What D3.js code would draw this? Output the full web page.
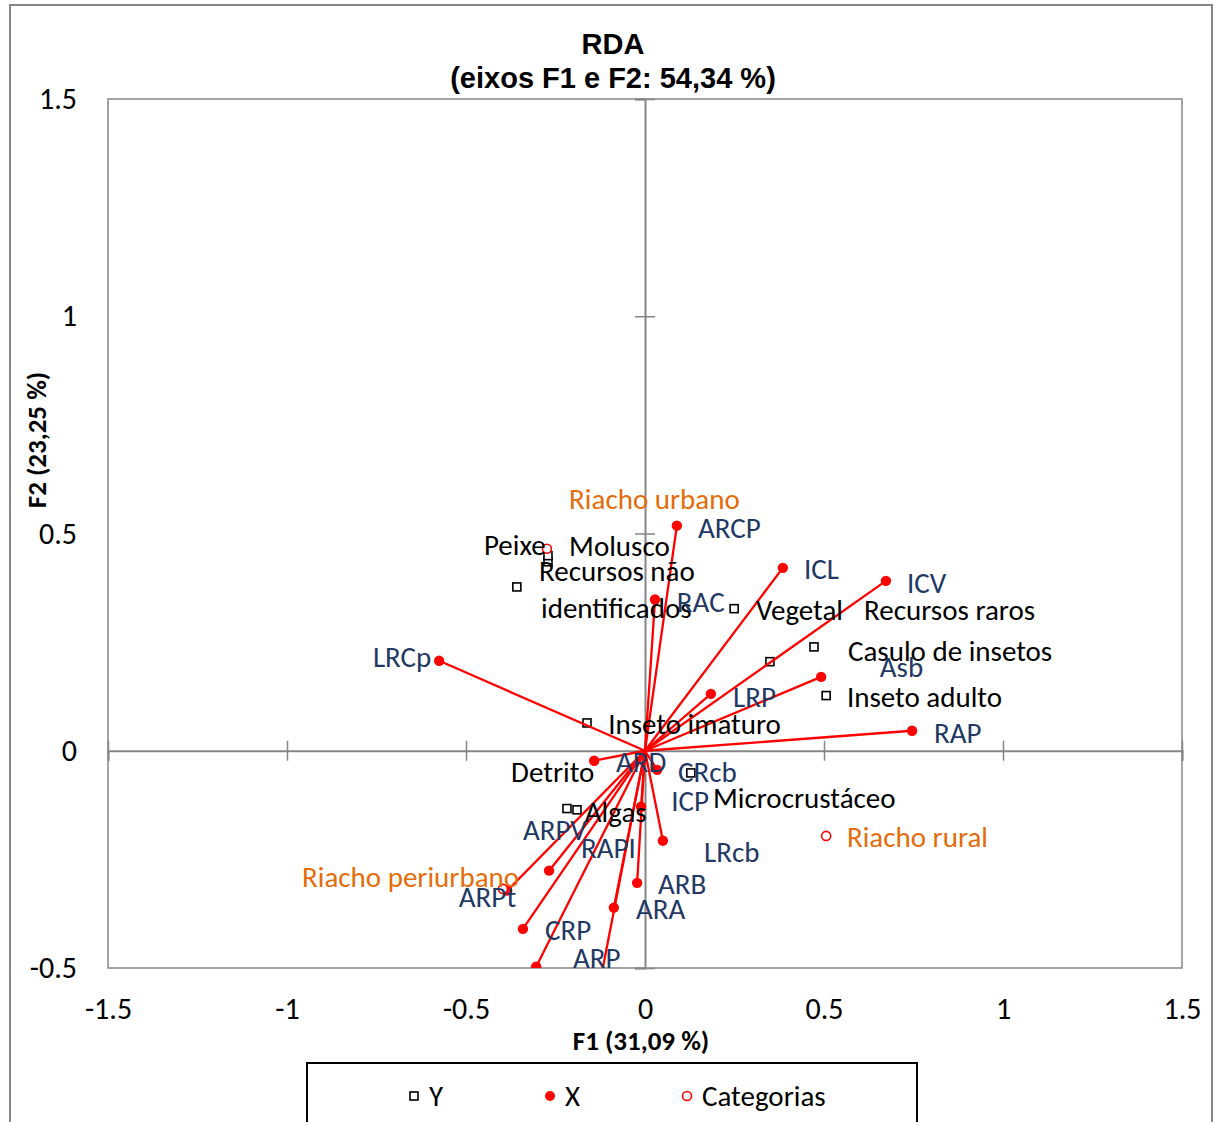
<!DOCTYPE html>
<html><head><meta charset="utf-8">
<script src="https://cdn.jsdelivr.net/npm/d3@7"></script>
<style>body{margin:0;background:#fff}svg{display:block}</style>
</head><body>
<svg id="c" width="1216" height="1122"></svg>
<script>
// ---- data ----
const xNames = ["ARCP","ICL","ICV","RAC","LRCp","LRP","Asb","RAP","ARD","CRcb","ICP","LRcb","ARB","ARA","CRP","ARP","RAPI","ARPV","ARPt"];
const xF1 = [0.089,0.385,0.673,0.028,-0.575,0.184,0.492,0.746,-0.142,0.034,-0.011,0.050,-0.022,-0.087,-0.341,-0.132,-0.304,-0.268,-0.385];
const xF2 = [0.518,0.421,0.391,0.348,0.207,0.131,0.170,0.046,-0.023,-0.044,-0.129,-0.207,-0.304,-0.361,-0.410,-0.560,-0.497,-0.276,-0.322];
const xLabF1 = [0.148,0.444,0.732,0.089,-0.760,0.246,0.656,0.807,-0.081,0.092,0.073,0.165,0.036,-0.025,-0.279,-0.201,-0.179,-0.341,-0.520];
const xLabF2 = [0.513,0.419,0.387,0.343,0.216,0.124,0.193,0.041,-0.025,-0.048,-0.115,-0.232,-0.306,-0.364,-0.412,-0.476,-0.223,-0.182,-0.336];

const yNames = ["Peixe","Molusco","Recursos não|identificados","Vegetal","Recursos raros","Casulo de insetos","Inseto adulto","Inseto imaturo","Detrito","Algas","Microcrustáceo"];
const yF1 = [-0.271,-0.271,-0.358,0.249,0.349,0.472,0.506,-0.162,-0.218,-0.190,0.128];
const yF2 = [0.435,0.449,0.377,0.327,0.205,0.239,0.127,0.064,-0.133,-0.136,-0.051];
const yLabF1 = [-0.450,-0.212,-0.296,0.310,0.612,0.567,0.564,-0.103,-0.374,-0.168,0.190];
const yLabF2 = [0.474,0.472,0.414,0.325,0.325,0.230,0.124,0.062,-0.048,-0.140,-0.108];

const cNames = ["Riacho urbano","Riacho rural","Riacho periurbano"];
const cF1 = [-0.274,0.506,-0.397];
const cF2 = [0.465,-0.196,-0.318];
const cLabF1 = [-0.212,0.564,-0.958];
const cLabF2 = [0.580,-0.198,-0.290];

const xTicks = [-1.5,-1,-0.5,0,0.5,1,1.5];
const yTicks = [-0.5,0,0.5,1,1.5];
const legendItems = ["Y","X","Categorias"];

// ---- drawing ----
const svg = d3.select("#c");
const L=108, R=1182, T=99, B=968;
const x = d3.scaleLinear().domain([-1.5,1.5]).range([L,R]);
const y = d3.scaleLinear().domain([-0.5,1.5]).range([B,T]);
const gray="#868686", blue="#1F3864", orange="#E46C0A", red="#FF0000";
const lblFont = "Carlito, Calibri, Lato, sans-serif";
const fs = 29;

// outer border
svg.append("rect").attr("x",10).attr("y",5).attr("width",1202).attr("height",1130)
  .attr("fill","none").attr("stroke",gray).attr("stroke-width",2);

// title
svg.append("text").attr("x",613).attr("y",54).attr("text-anchor","middle")
  .attr("font-family","Liberation Sans, Arial, sans-serif").attr("font-weight","bold").attr("font-size",29).text("RDA");
svg.append("text").attr("x",613).attr("y",88).attr("text-anchor","middle")
  .attr("font-family","Liberation Sans, Arial, sans-serif").attr("font-weight","bold").attr("font-size",29).text("(eixos F1 e F2: 54,34 %)");

// plot border
svg.append("rect").attr("x",L).attr("y",T).attr("width",R-L).attr("height",B-T)
  .attr("fill","none").attr("stroke",gray).attr("stroke-width",1.5);

// tick labels
const fmt = d => String(d);
const ax = svg.append("g").attr("transform",`translate(0,${B})`)
  .call(d3.axisBottom(x).tickValues(xTicks).tickFormat(fmt).tickSize(0).tickPadding(30));
const ay = svg.append("g").attr("transform",`translate(${L},0)`)
  .call(d3.axisLeft(y).tickValues(yTicks).tickFormat(fmt).tickSize(0).tickPadding(31));
[ax,ay].forEach(g=>{g.select(".domain").remove();
  g.selectAll("text").attr("font-family",lblFont).attr("font-size",30).attr("fill","#000");});

// zero axes with crossing ticks
const zx = svg.append("g").attr("transform",`translate(0,${y(0)})`)
  .call(d3.axisBottom(x).tickValues(xTicks).tickSize(10).tickFormat(""));
zx.selectAll(".tick line").attr("y1",-10);
const zy = svg.append("g").attr("transform",`translate(${x(0)},0)`)
  .call(d3.axisLeft(y).tickValues(yTicks).tickSize(10).tickFormat(""));
zy.selectAll(".tick line").attr("x1",10);
[zx,zy].forEach(g=>{g.select(".domain").attr("stroke",gray).attr("stroke-width",2);
  g.selectAll(".tick line").attr("stroke",gray).attr("stroke-width",1.5);});

// axis titles
svg.append("text").attr("x",641).attr("y",1050).attr("text-anchor","middle")
  .attr("font-family",lblFont).attr("font-weight","bold").attr("font-size",27).text("F1 (31,09 %)");
svg.append("text").attr("transform","translate(46,440) rotate(-90)").attr("text-anchor","middle")
  .attr("font-family",lblFont).attr("font-weight","bold").attr("font-size",27).text("F2 (23,25 %)");

// clip
svg.append("clipPath").attr("id","clip").append("rect").attr("x",L).attr("y",T).attr("width",R-L).attr("height",B-T);
const plot = svg.append("g").attr("clip-path","url(#clip)");

const xs = xNames.map((n,i)=>({n,a:xF1[i],b:xF2[i],la:xLabF1[i],lb:xLabF2[i]}));
const ys = yNames.map((n,i)=>({n,a:yF1[i],b:yF2[i],la:yLabF1[i],lb:yLabF2[i]}));
const cs = cNames.map((n,i)=>({n,a:cF1[i],b:cF2[i],la:cLabF1[i],lb:cLabF2[i]}));

// Y squares
plot.selectAll(".ysq").data(ys).join("rect").attr("class","ysq")
  .attr("x",d=>x(d.a)-4).attr("y",d=>y(d.b)-4).attr("width",8).attr("height",8)
  .attr("fill","#fff").attr("stroke","#000").attr("stroke-width",1.6);

// X vectors
plot.selectAll(".xl").data(xs).join("line").attr("class","xl")
  .attr("x1",x(0)).attr("y1",y(0)).attr("x2",d=>x(d.a)).attr("y2",d=>y(d.b))
  .attr("stroke",red).attr("stroke-width",2.3);
plot.selectAll(".xp").data(xs).join("circle").attr("class","xp")
  .attr("cx",d=>x(d.a)).attr("cy",d=>y(d.b)).attr("r",5.2).attr("fill",red);

// categories
plot.selectAll(".cp").data(cs).join("circle").attr("class","cp")
  .attr("cx",d=>x(d.a)).attr("cy",d=>y(d.b)).attr("r",4.5)
  .attr("fill","#fff").attr("stroke",red).attr("stroke-width",1.6);

// labels
function labels(data,color){
  const t = svg.append("g").selectAll("text").data(data).join("text")
    .attr("x",d=>x(d.la)).attr("y",d=>y(d.lb)).attr("dy","0.35em")
    .attr("font-family",lblFont).attr("font-size",fs).attr("fill",color);
  t.each(function(d){
    const parts=d.n.split("|"); const s=d3.select(this);
    parts.forEach((p,k)=>s.append("tspan").attr("x",x(d.la)+(k?2:0)).attr("dy",k?"1.28em":null).text(p));
  });
}
labels(ys,"#000");
labels(xs,blue);
labels(cs,orange);

// legend
svg.append("rect").attr("x",307).attr("y",1063).attr("width",610).attr("height",100)
  .attr("fill","#fff").attr("stroke","#000").attr("stroke-width",2);
const lx=[414,550,687];
const lg = svg.append("g").selectAll("g").data(legendItems).join("g")
  .attr("transform",(d,i)=>`translate(${lx[i]},1096)`);
lg.each(function(d,i){
  const g=d3.select(this);
  if(i===0) g.append("rect").attr("x",-4).attr("y",-4).attr("width",8).attr("height",8).attr("fill","#fff").attr("stroke","#000").attr("stroke-width",1.6);
  if(i===1) g.append("circle").attr("r",5).attr("fill",red);
  if(i===2) g.append("circle").attr("r",4.5).attr("fill","#fff").attr("stroke",red).attr("stroke-width",1.6);
  g.append("text").attr("x",15).attr("dy","0.35em").attr("font-family",lblFont).attr("font-size",fs).text(d);
});
</script>
</body></html>
